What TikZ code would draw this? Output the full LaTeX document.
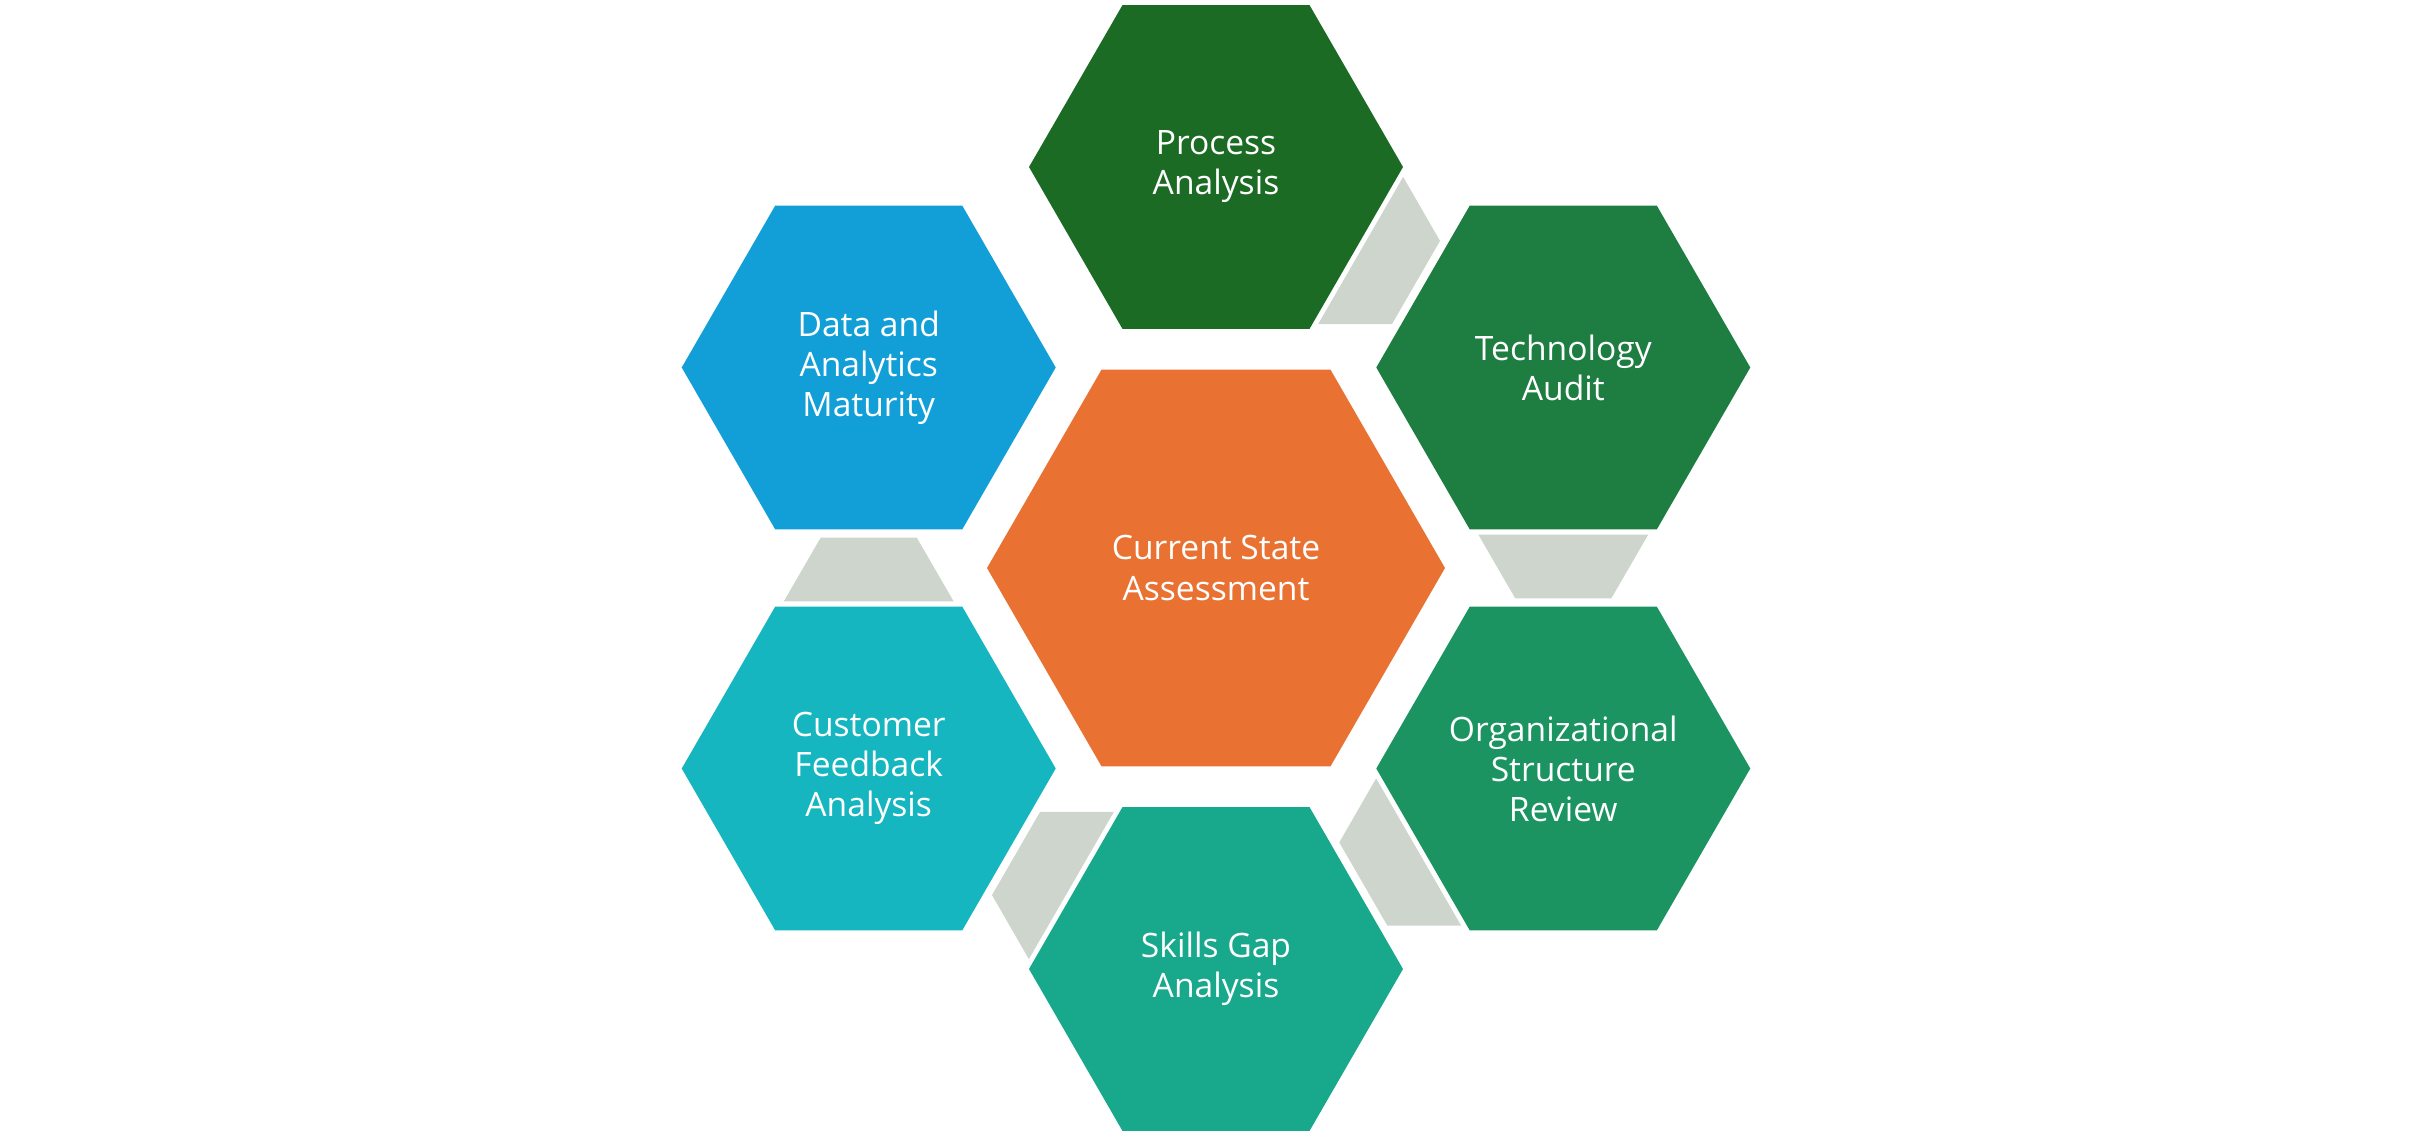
\documentclass[tikz,border=0pt]{standalone}
\usepackage{fontspec}
\setmainfont{Open Sans}
\usetikzlibrary{shapes.geometric,calc}
\definecolor{cProc}{HTML}{1B6B25}
\definecolor{cTech}{HTML}{1E7E41}
\definecolor{cOrg}{HTML}{1B9462}
\definecolor{cSkill}{HTML}{18A88B}
\definecolor{cCust}{HTML}{15B6BF}
\definecolor{cData}{HTML}{129FD7}
\definecolor{cCenter}{HTML}{E97132}
\definecolor{cConn}{HTML}{CDD5CD}
\tikzset{
  hexa/.style={regular polygon, regular polygon sides=6, inner sep=0pt, outer sep=0pt,
    minimum size=3.74cm, text=white, align=center,
    font=\fontsize{9.56pt}{11.4pt}\selectfont},
  bighexa/.style={hexa, minimum size=4.58cm},
  connshape/.style={fill=cConn, draw=none}
}
\newcommand{\hexconn}[2]{%
  \fill[connshape] ($(#1)!1.874cm!26.97:(#2)$) -- ($(#1)!1.874cm!-26.97:(#2)$)
    -- ($(#1)!2.359cm!-11.74:(#2)$) -- ($(#1)!2.359cm!11.74:(#2)$) -- cycle;}
\begin{document}
\begin{tikzpicture}
\useasboundingbox (0,0) rectangle (24.30,11.36);
\coordinate (ctr) at (12.16,5.68);
\coordinate (pP) at ($(ctr)+(90:4.01)$);
\coordinate (pT) at ($(ctr)+(30:4.01)$);
\coordinate (pO) at ($(ctr)+(-30:4.01)$);
\coordinate (pS) at ($(ctr)+(-90:4.01)$);
\coordinate (pC) at ($(ctr)+(-150:4.01)$);
\coordinate (pD) at ($(ctr)+(150:4.01)$);
\hexconn{pP}{pT}
\hexconn{pT}{pO}
\hexconn{pO}{pS}
\hexconn{pS}{pC}
\hexconn{pC}{pD}
\node[bighexa, fill=cCenter] (center) at (ctr) {Current State\\Assessment};
\node[hexa, fill=cProc] (proc) at (pP) {Process\\Analysis};
\node[hexa, fill=cTech] (tech) at (pT) {Technology\\Audit};
\node[hexa, fill=cOrg] (org) at (pO) {Organizational\\Structure\\Review};
\node[hexa, fill=cSkill] (skill) at (pS) {Skills Gap\\Analysis};
\node[hexa, fill=cCust] (cust) at (pC) {Customer\\Feedback\\Analysis};
\node[hexa, fill=cData] (data) at (pD) {Data and\\Analytics\\Maturity};
\end{tikzpicture}
\end{document}
